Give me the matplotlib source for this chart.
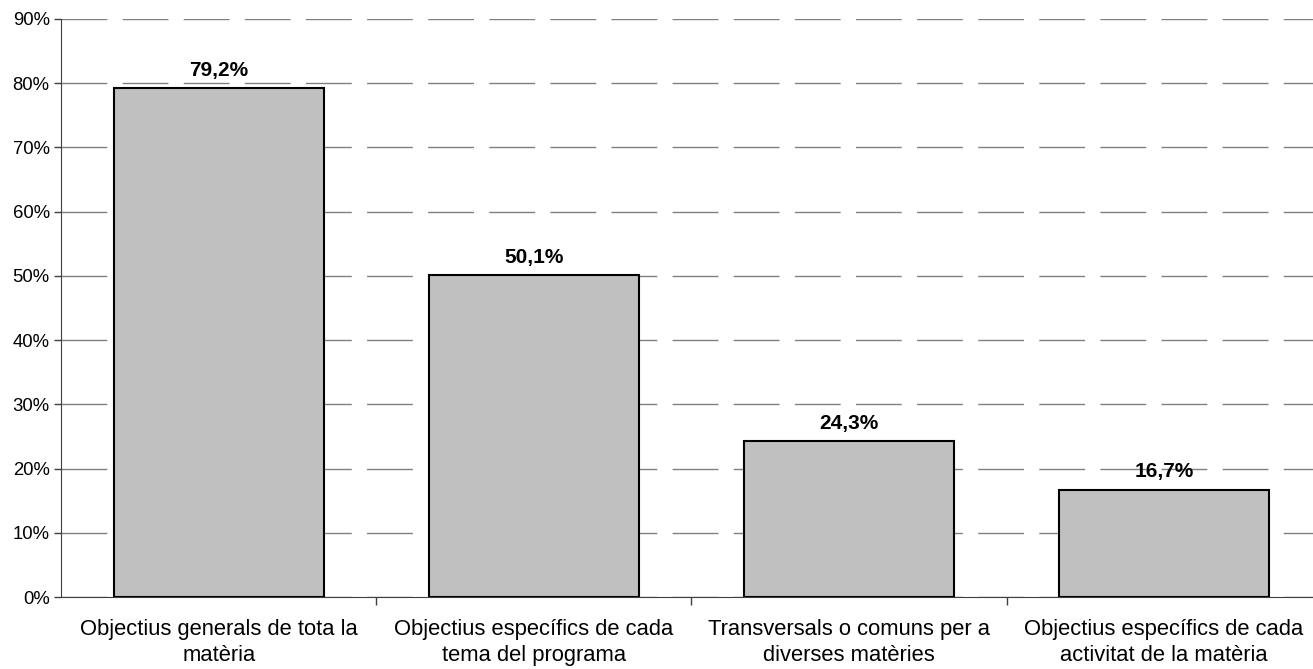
import matplotlib.pyplot as plt
from matplotlib.ticker import FixedLocator, PercentFormatter

plt.rcParams['font.family'] = ['Liberation Sans', 'DejaVu Sans']

# data
categories = [
    'Objectius generals de tota la\nmatèria',
    'Objectius específics de cada\ntema del programa',
    'Transversals o comuns per a\ndiverses matèries',
    'Objectius específics de cada\nactivitat de la matèria',
]
values = [79.2, 50.1, 24.3, 16.7]
yticks = [0, 10, 20, 30, 40, 50, 60, 70, 80, 90]

fig = plt.figure(figsize=(13.13, 6.69), dpi=100)
ax = fig.add_axes([0.0468, 0.1076, 0.9597, 0.864])

x = list(range(len(categories)))
ax.set_axisbelow(True)
ax.yaxis.grid(True, color='#808080', linewidth=1, dashes=(33, 11))
bars = ax.bar(x, values, width=0.667, color='#C0C0C0', edgecolor='black', linewidth=1.5, zorder=3)

for b, v in zip(bars, values):
    ax.annotate(f'{v:.1f}%'.replace('.', ','), (b.get_x() + b.get_width() / 2, v),
                xytext=(0, 6), textcoords='offset points', ha='center', va='bottom',
                fontsize=15, fontweight='bold')

ax.set_xlim(-0.5, len(categories) - 0.5)
ax.set_ylim(0, 90)
ax.set_yticks(yticks)
ax.yaxis.set_major_formatter(PercentFormatter(decimals=0))
ax.tick_params(axis='y', labelsize=13.3, length=5, width=1, color='#404040')

ax.set_xticks(x)
ax.set_xticklabels(categories, fontsize=15.8, linespacing=1.3)
ax.tick_params(axis='x', which='major', length=0, pad=16)
ax.xaxis.set_minor_locator(FixedLocator([0.5, 1.5, 2.5]))
ax.tick_params(axis='x', which='minor', length=6, width=1, color='#404040')

for s in ['top', 'right']:
    ax.spines[s].set_visible(False)
ax.spines['left'].set_color('#404040')
ax.spines['bottom'].set_color('#404040')

fig.savefig('out.png', dpi=100)
